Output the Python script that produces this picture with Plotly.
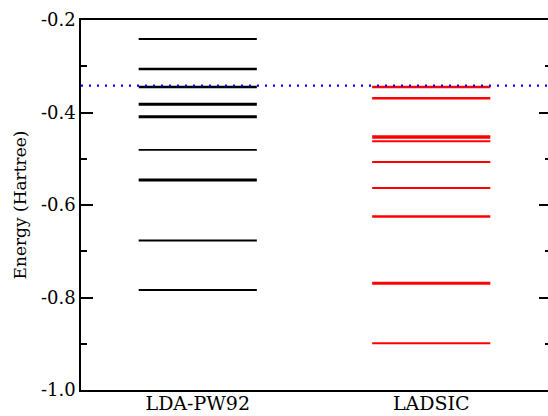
import plotly.graph_objects as go

# ---- data ----
categories = ["LDA-PW92", "LADSIC"]
lda_levels = [-0.241, -0.306, -0.345, -0.382, -0.409, -0.481, -0.546, -0.677, -0.784]
lda_widths = [2.0, 2.5, 2.5, 3.0, 3.0, 1.8, 3.0, 2.0, 2.0]
ladsic_levels = [-0.345, -0.369, -0.453, -0.462, -0.507, -0.563, -0.625, -0.769, -0.899]
ladsic_widths = [2.5, 2.5, 3.5, 2.0, 2.0, 2.0, 2.5, 3.0, 2.0]
homo_level = -0.342
yticks = [-1.0, -0.8, -0.6, -0.4, -0.2]
ytick_text = ["-1.0", "-0.8", "-0.6", "-0.4", "-0.2"]

half = 0.253
fig = go.Figure()

def add_levels(pos, levels, widths, color):
    for v, w in zip(levels, widths):
        fig.add_trace(go.Scatter(x=[pos - half, pos + half], y=[v, v], mode="lines",
                                 line=dict(color=color, width=w), showlegend=False,
                                 hoverinfo="skip"))

add_levels(1, lda_levels, lda_widths, "black")
add_levels(2, ladsic_levels, ladsic_widths, "#ff0000")

fig.add_trace(go.Scatter(x=[0.5, 2.5], y=[homo_level, homo_level], mode="lines",
                         line=dict(color="#0000ff", width=2.2, dash="2px,6px"),
                         showlegend=False, hoverinfo="skip"))
# invisible trace for right-side tick axis
fig.add_trace(go.Scatter(x=[1], y=[-0.5], yaxis="y2", mode="markers",
                         marker=dict(opacity=0), showlegend=False, hoverinfo="skip"))

serif = "DejaVu Serif"
fig.update_layout(
    width=548, height=416,
    margin=dict(l=81, r=0, t=20, b=26),
    paper_bgcolor="white", plot_bgcolor="white",
    font=dict(family=serif, size=18, color="black"),
    xaxis=dict(range=[0.5, 2.5], tickvals=[1, 2], ticktext=categories, automargin=False,
               showgrid=False, zeroline=False, showline=True, linecolor="black",
               linewidth=1.5, mirror=True, ticks="", ticklabelstandoff=-5,
               tickfont=dict(family=serif, size=19)),
    yaxis=dict(range=[-1.0, -0.2], tickvals=yticks, ticktext=ytick_text, automargin=False,
               showgrid=False, zeroline=False, showline=True, linecolor="black",
               linewidth=1.5, ticks="inside", ticklen=12, tickwidth=1.5, tickcolor="black",
               minor=dict(ticks="inside", ticklen=6, dtick=0.1, tickwidth=1.5, tickcolor="black", showgrid=False),
               tickfont=dict(family=serif, size=18),
               title=dict(text="Energy (Hartree)", font=dict(family=serif, size=17), standoff=10)),
    yaxis2=dict(range=[-1.0, -0.2], overlaying="y", side="right", anchor="x", automargin=False,
                tickvals=yticks, showticklabels=False, showgrid=False, zeroline=False,
                showline=False, ticks="inside", ticklen=9, tickwidth=1.5, tickcolor="black",
                minor=dict(ticks="inside", ticklen=3, dtick=0.1, tickwidth=1.5, tickcolor="black", showgrid=False)),
)

fig.write_html("out.html")
